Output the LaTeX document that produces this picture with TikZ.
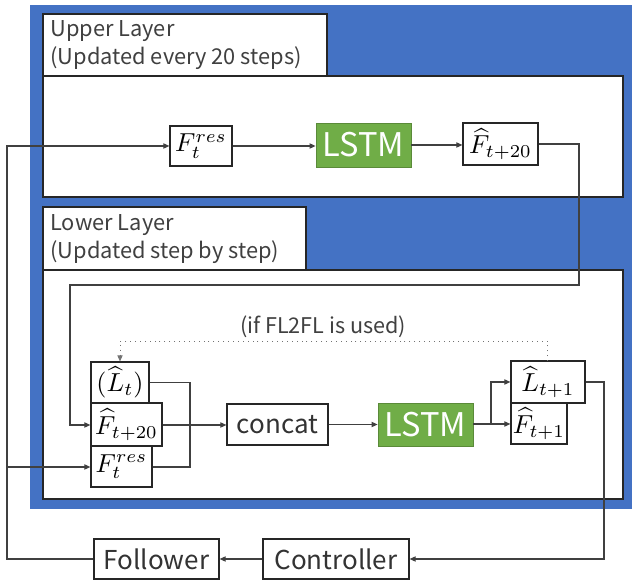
\documentclass[tikz,border=0pt]{standalone}
\usepackage{graphicx}
\usepackage{fontspec}
\newfontfamily\jp{Noto Sans CJK JP}
\usetikzlibrary{arrows.meta}
\definecolor{bgblue}{HTML}{4472C4}
\definecolor{lstmgreen}{HTML}{70AD47}
\definecolor{linegray}{HTML}{404040}
\newcommand{\mbig}[1]{\scalebox{1.3}{$#1$}}
\tikzset{
  panel/.style={draw=black!85, line width=0.7pt, fill=white, inner sep=0pt},
  box/.style={draw=black!85, line width=0.6pt, fill=white, inner sep=0pt},
  txt/.style={font=\jp\fontsize{13}{15}\selectfont, text=black!80},
  mth/.style={},
  lstmbox/.style={fill=lstmgreen, draw=lstmgreen!80!black, line width=0.4pt, text=white, inner sep=0pt, font=\jp\fontsize{16.3}{18}\selectfont},
  head/.style={font=\jp\fontsize{10.9}{13}\selectfont, anchor=base west, inner sep=0pt, text=black!75},
  conn/.style={draw=linegray, line width=0.55pt},
  arr/.style={conn, -{Triangle[length=3pt,width=2.6pt]}},
  dotarr/.style={draw=black!55, line width=0.45pt, dotted, -{Triangle[length=3pt,width=2.6pt]}}
}
\begin{document}
\begin{tikzpicture}[x=0.5pt,y=-0.5pt]
\useasboundingbox (0,0) rectangle (632,582);
\fill[bgblue] (30,5) rectangle (632,509);
% panels
\node[panel, minimum width=142pt, minimum height=31pt] (uptitle) at (185,45) {};
\node[panel, minimum width=290pt, minimum height=60.5pt] (upbody) at (333,136.5) {};
\node[panel, minimum width=131.5pt, minimum height=31.5pt] (lowtitle) at (174.5,238.5) {};
\node[panel, minimum width=290pt, minimum height=114.5pt] (lowbody) at (333,384.5) {};
\node[head] (uph1) at (50,37) {Upper Layer};
\node[head] (uph2) at (50,65) {(Updated every 20 steps)};
\node[head] (lowh1) at (50,231) {Lower Layer};
\node[head] (lowh2) at (50,259) {(Updated step by step)};
% upper layer nodes
\node[box, mth, minimum width=31pt, minimum height=20pt] (fres1) at (201,146) {\mbig{F_t^{res}}};
\node[lstmbox, minimum width=47.5pt, minimum height=22pt] (lstm1) at (363.5,145) {LSTM};
\node[box, mth, minimum width=37.5pt, minimum height=21pt] (fhat1) at (500.5,144) {\mbig{\widehat{F}_{t+20}}};
% lower layer nodes
\node[box, mth, minimum width=29pt, minimum height=20.5pt] (lt) at (120,382.5) {\mbig{(\widehat{L}_t)}};
\node[box, mth, minimum width=35.5pt, minimum height=21.5pt] (fh20) at (126.5,424.5) {\mbig{\widehat{F}_{t+20}}};
\node[box, mth, minimum width=30.5pt, minimum height=20.5pt] (fres2) at (121.5,466.5) {\mbig{F_t^{res}}};
\node[box, txt, minimum width=50.5pt, minimum height=20.5pt] (concat) at (277.5,424.5) {concat};
\node[lstmbox, minimum width=47.5pt, minimum height=21.5pt] (lstm2) at (425.5,424.5) {LSTM};
\node[box, mth, minimum width=37pt, minimum height=21pt] (lt1) at (548,382) {\mbig{\widehat{L}_{t+1}}};
\node[box, mth, minimum width=28pt, minimum height=20.5pt] (ft1) at (539,423.5) {\mbig{\widehat{F}_{t+1}}};
\node[font=\jp\fontsize{10.8}{13}\selectfont, text=black!75, inner sep=0pt] (note) at (323,327) {(if FL2FL is used)};
% bottom nodes
\node[box, txt, minimum width=62.5pt, minimum height=20pt] (follower) at (156.5,559) {Follower};
\node[box, txt, minimum width=73pt, minimum height=20pt] (controller) at (336,559) {Controller};
% connectors
\draw[arr] (fres1.east) -- (lstm1.west |- fres1.east);
\draw[arr] (lstm1.east) -- (fhat1.west |- lstm1.east);
\draw[arr] (fhat1.east) -- (579,144) -- (579,285) -- (70,285) -- (70,425) -- (fh20.west |- 0,425);
\draw[conn] (lt.east) -- (190,382.5) -- (190,467) -- (fres2.east |- 0,467);
\draw[arr] (fh20.east |- 0,425) -- (concat.west |- 0,425);
\draw[arr] (concat.east |- 0,424.5) -- (lstm2.west |- 0,424.5);
\draw[arr] (lstm2.east |- 0,424) -- (ft1.west |- 0,424);
\coordinate (split) at (491,424);
\draw[arr] (split) |- (lt1.west);
\draw[arr] (lt1.east) -- (604,382) -- (604,559) -- (controller.east);
\draw[arr] (controller.west) -- (follower.east);
\draw[arr] (follower.west) -- (7,559) -- (7,146) -- (fres1.west);
\coordinate (branch) at (7,467);
\draw[arr] (branch) -- (fres2.west |- branch);
\draw[dotarr] (547,361) -- (547,341) -- (120,341) -- (lt.north);
\end{tikzpicture}
\end{document}
